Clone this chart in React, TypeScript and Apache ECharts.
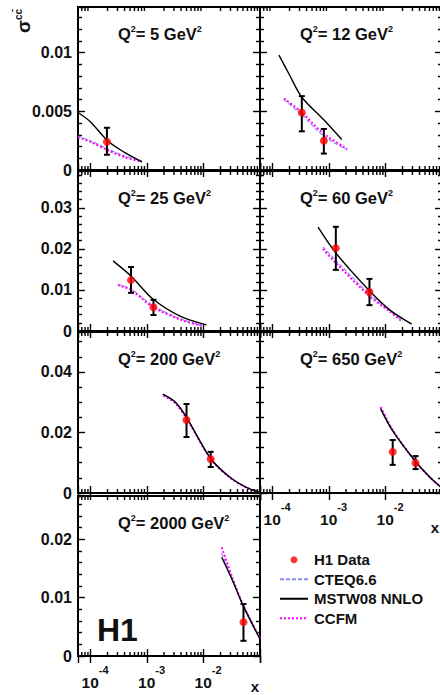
import React, { useEffect, useRef } from 'react';
import * as echarts from 'echarts';

const FONT = "'Liberation Sans', Arial, Helvetica, sans-serif";

// ---------- data ----------
const Q2_LABELS = ['5', '12', '25', '60', '200', '650', '2000'];
const X_MIN = 6e-5;
const X_MAX = 0.1;
const X_LABEL_EXPONENTS = [-4, -3, -2];

const ROW_Y_MAX = [0.0139, 0.039, 0.0532, 0.0274];
const ROW_Y_STEP = [0.005, 0.01, 0.02, 0.01];
const ROW_Y_MINOR = [5, 5, 4, 5];

// H1 data: [x, value, low, high]
const DATA_5 = [[1.95e-4, 0.0024, 0.0013, 0.0036]];
const DATA_12 = [[3.3e-4, 0.0049, 0.0033, 0.0063], [8.1e-4, 0.0025, 0.0014, 0.0035]];
const DATA_25 = [[5.2e-4, 0.0124, 0.0093, 0.0156], [1.3e-3, 0.0058, 0.0039, 0.0076]];
const DATA_60 = [[1.32e-3, 0.0202, 0.0149, 0.0254], [5.2e-3, 0.0095, 0.0063, 0.0127]];
const DATA_200 = [[5.0e-3, 0.0241, 0.0185, 0.0294], [1.34e-2, 0.0112, 0.0086, 0.0136]];
const DATA_650 = [[1.34e-2, 0.0136, 0.0093, 0.0175], [3.4e-2, 0.0099, 0.0079, 0.0122]];
const DATA_2000 = [[5.1e-2, 0.0058, 0.0026, 0.0089]];

// MSTW08 NNLO
const MSTW_5 = [[6e-5, 0.0049], [1e-4, 0.0041], [2e-4, 0.0025], [4e-4, 0.0015], [8.1e-4, 0.0007]];
const MSTW_12 = [[1.3e-4, 0.0098], [2e-4, 0.0081], [3.3e-4, 0.0062], [8e-4, 0.0043], [1.68e-3, 0.0026]];
const MSTW_25 = [[2.5e-4, 0.0171], [5.2e-4, 0.0134], [1.27e-3, 0.0078], [4e-3, 0.0035], [1.13e-2, 0.0015]];
const MSTW_60 = [[6.4e-4, 0.0253], [1.32e-3, 0.019], [5.2e-3, 0.0098], [1.2e-2, 0.0051], [2.9e-2, 0.0017]];
const MSTW_200 = [[1.9e-3, 0.0327], [3.1e-3, 0.0302], [5e-3, 0.025], [1.34e-2, 0.0114], [2.9e-2, 0.0053], [6e-2, 0.0017], [0.1, 0.0003]];
const MSTW_650 = [[8.2e-3, 0.0278], [1.34e-2, 0.0205], [3.4e-2, 0.0104], [6e-2, 0.0054], [0.1, 0.0016]];
const MSTW_2000 = [[2.1e-2, 0.0169], [3.3e-2, 0.0128], [5.1e-2, 0.0085], [0.1, 0.0029]];

// CCFM
const CCFM_5 = [[6e-5, 0.0028], [1e-4, 0.0024], [2e-4, 0.0017], [4e-4, 0.0011], [8.1e-4, 0.0007]];
const CCFM_12 = [[1.6e-4, 0.0061], [3.3e-4, 0.0049], [8e-4, 0.0031], [2.1e-3, 0.0018]];
const CCFM_25 = [[3.05e-4, 0.0112], [5.2e-4, 0.01], [1.27e-3, 0.0059], [4e-3, 0.0027], [9.7e-3, 0.0012]];
const CCFM_60 = [[7.8e-4, 0.02], [1.32e-3, 0.0166], [5.2e-3, 0.0085], [1.2e-2, 0.0047], [2.0e-2, 0.0022]];
const CCFM_200 = [[1.95e-3, 0.0322], [3.1e-3, 0.0298], [5e-3, 0.0247], [1.34e-2, 0.0112], [2.9e-2, 0.0051], [6e-2, 0.0016], [0.1, 0.0003]];
const CCFM_650 = [[8.2e-3, 0.0284], [1.34e-2, 0.0208], [3.4e-2, 0.0103], [6e-2, 0.0053], [0.1, 0.0016]];
const CCFM_2000 = [[2.1e-2, 0.0186], [3.3e-2, 0.0132], [5.1e-2, 0.0086], [0.1, 0.003]];

// CTEQ6.6
const CTEQ_5 = [[6e-5, 0.0029], [1e-4, 0.0025], [2e-4, 0.0018], [4e-4, 0.0012], [8.1e-4, 0.0008]];
const CTEQ_12 = [[1.6e-4, 0.006], [3.3e-4, 0.0047], [8e-4, 0.0029], [2.1e-3, 0.0017]];
const CTEQ_25 = [[3.05e-4, 0.0114], [5.2e-4, 0.0102], [1.27e-3, 0.0062], [4e-3, 0.0029], [9.7e-3, 0.0013]];
const CTEQ_60 = [[7.8e-4, 0.0205], [1.32e-3, 0.0172], [5.2e-3, 0.009], [1.2e-2, 0.0049], [2.0e-2, 0.0024]];
const CTEQ_200 = [[1.95e-3, 0.0324], [3.1e-3, 0.03], [5e-3, 0.0248], [1.34e-2, 0.0113], [2.9e-2, 0.0052], [6e-2, 0.0017], [0.1, 0.0003]];
const CTEQ_650 = [[8.2e-3, 0.028], [1.34e-2, 0.0206], [3.4e-2, 0.0103], [6e-2, 0.0053], [0.1, 0.0016]];
const CTEQ_2000 = [[2.1e-2, 0.0176], [3.3e-2, 0.0129], [5.1e-2, 0.0085], [0.1, 0.003]];

const DATA = [DATA_5, DATA_12, DATA_25, DATA_60, DATA_200, DATA_650, DATA_2000];
const MSTW = [MSTW_5, MSTW_12, MSTW_25, MSTW_60, MSTW_200, MSTW_650, MSTW_2000];
const CCFM = [CCFM_5, CCFM_12, CCFM_25, CCFM_60, CCFM_200, CCFM_650, CCFM_2000];
const CTEQ = [CTEQ_5, CTEQ_12, CTEQ_25, CTEQ_60, CTEQ_200, CTEQ_650, CTEQ_2000];

const LEGEND_NAMES = ['H1 Data', 'CTEQ6.6', 'MSTW08 NNLO', 'CCFM'];

// minor tick positions of the log x axis (2..9 x 10^n)
const X_MINOR_TICKS: number[] = [];
for (let e = -5; e <= -2; e++) {
  for (let m = 2; m <= 9; m++) {
    const v = m * Math.pow(10, e);
    if (v > X_MIN && v < X_MAX) X_MINOR_TICKS.push(v);
  }
}

// ---------- layout ----------
const PANEL_ROW = [0, 0, 1, 1, 2, 2, 3];
const PANEL_COL = [0, 1, 0, 1, 0, 1, 0];
const COL_X = [78, 260];
const COL_W = 182;
const ROW_TOP = [7, 171, 332, 496];
const ROW_H = [163, 160, 161, 160];

function xLabel(v: number) {
  const e = Math.log10(v);
  const r = Math.round(e);
  if (Math.abs(e - r) > 1e-6 || X_LABEL_EXPONENTS.indexOf(r) < 0) return '';
  return `{p|}{b|10}{s|${r}}`;
}

function buildOption() {
  const grids: any[] = [];
  const xAxes: any[] = [];
  const yAxes: any[] = [];
  const series: any[] = [];
  const graphics: any[] = [];
  const tickLine = { color: '#000', width: 1.4 };

  DATA.forEach((pts, i) => {
    const r = PANEL_ROW[i];
    const c = PANEL_COL[i];
    grids.push({
      left: COL_X[c], top: ROW_TOP[r], width: COL_W, height: ROW_H[r],
      show: true, borderColor: '#000', borderWidth: 2, backgroundColor: 'transparent',
      containLabel: false, outerBoundsMode: 'none',
    });
    const showX = i === 5 || i === 6;
    const showY = c === 0;
    const xi = xAxes.length;
    const yi = yAxes.length;
    const xBase = {
      type: 'log', logBase: 10, gridIndex: i, min: X_MIN, max: X_MAX,
      axisLine: { show: false },
      axisTick: { show: true, inside: true, length: 7, lineStyle: tickLine },
      splitLine: { show: false },
      minorTick: { show: false },
    };
    xAxes.push({
      ...xBase, position: 'bottom',
      axisLabel: showX ? {
        show: true, margin: 8, showMinLabel: false, showMaxLabel: false, hideOverlap: false,
        formatter: xLabel,
        rich: {
          p: { width: 9 },
          b: { fontSize: 15.5, fontWeight: 'bold', fontFamily: FONT, color: '#111', lineHeight: 26, verticalAlign: 'bottom' },
          s: { fontSize: 11, fontWeight: 'bold', fontFamily: FONT, color: '#111', lineHeight: 4, verticalAlign: 'top' },
        },
      } : { show: false },
    });
    xAxes.push({ ...xBase, position: 'top', axisLabel: { show: false } });
    const yBase = {
      type: 'value', gridIndex: i, min: 0, max: ROW_Y_MAX[r], interval: ROW_Y_STEP[r],
      axisLine: { show: false },
      axisTick: { show: true, inside: true, length: 7, lineStyle: tickLine },
      minorTick: { show: true, splitNumber: ROW_Y_MINOR[r], length: 4, lineStyle: tickLine },
      splitLine: { show: false },
      minorSplitLine: { show: false },
    };
    yAxes.push({
      ...yBase, position: 'left',
      axisLabel: showY ? {
        show: true, margin: 6, showMaxLabel: false,
        fontSize: 16, fontWeight: 'bold', fontFamily: FONT, color: '#111',
      } : { show: false },
    });
    yAxes.push({ ...yBase, position: 'right', axisLabel: { show: false } });

    series.push({
      type: 'line', name: 'CTEQ6.6', xAxisIndex: xi, yAxisIndex: yi,
      data: CTEQ[i], symbol: 'none', showSymbol: false, smooth: 0.3,
      lineStyle: { color: '#8c8cff', width: 1.2, type: [4, 2] }, itemStyle: { color: '#8c8cff' }, z: 2,
    });
    series.push({
      type: 'line', name: 'CCFM', xAxisIndex: xi, yAxisIndex: yi,
      data: CCFM[i], symbol: 'none', showSymbol: false, smooth: 0.3,
      lineStyle: { color: '#ff00ff', width: 2, type: [2, 2] }, itemStyle: { color: '#ff00ff' }, z: 3,
    });
    series.push({
      type: 'line', name: 'MSTW08 NNLO', xAxisIndex: xi, yAxisIndex: yi,
      data: MSTW[i], symbol: 'none', showSymbol: false, smooth: 0.3,
      lineStyle: { color: '#000', width: 1.4 }, itemStyle: { color: '#000' }, z: 4,
    });
    series.push({
      type: 'custom', name: 'xminor', xAxisIndex: xi, yAxisIndex: yi, silent: true, clip: false, z: 6,
      data: X_MINOR_TICKS.map((v) => [v, 0]),
      encode: { x: 0, y: 1 },
      renderItem: (params: any, api: any) => {
        const cs = params.coordSys;
        const px = api.coord([api.value(0), 0])[0];
        const b = cs.y + cs.height;
        return {
          type: 'group',
          children: [
            { type: 'line', shape: { x1: px, y1: b, x2: px, y2: b - 4 }, style: { stroke: '#000', lineWidth: 1.4 } },
            { type: 'line', shape: { x1: px, y1: cs.y, x2: px, y2: cs.y + 4 }, style: { stroke: '#000', lineWidth: 1.4 } },
          ],
        };
      },
    });
    series.push({
      type: 'custom', name: 'errors', xAxisIndex: xi, yAxisIndex: yi, silent: true, z: 7,
      data: pts.map((d) => [d[0], d[2], d[3]]),
      encode: { x: 0, y: [1, 2] },
      renderItem: (params: any, api: any) => {
        const lo = api.coord([api.value(0), api.value(1)]);
        const hi = api.coord([api.value(0), api.value(2)]);
        const st = { stroke: '#000', lineWidth: 2 };
        return {
          type: 'group',
          children: [
            { type: 'line', shape: { x1: lo[0], y1: lo[1], x2: hi[0], y2: hi[1] }, style: st },
            { type: 'line', shape: { x1: lo[0] - 3, y1: lo[1], x2: lo[0] + 3, y2: lo[1] }, style: st },
            { type: 'line', shape: { x1: hi[0] - 3, y1: hi[1], x2: hi[0] + 3, y2: hi[1] }, style: st },
          ],
        };
      },
    });
    series.push({
      type: 'scatter', name: 'H1 Data', xAxisIndex: xi, yAxisIndex: yi,
      data: pts.map((d) => [d[0], d[1]]), symbol: 'circle', symbolSize: 8,
      itemStyle: { color: '#ff0000' }, z: 8,
    });

    // panel title
    graphics.push({
      type: 'text', x: c === 0 ? 118 : 300, y: ROW_TOP[r] + 26,
      style: {
        text: `{q|Q}{s|2}{q|= ${Q2_LABELS[i]} GeV}{s|2}`,
        verticalAlign: 'middle', align: 'left',
        rich: {
          q: { fontSize: 16.5, fontWeight: 'bold', fontFamily: FONT, fill: '#111', lineHeight: 18, verticalAlign: 'bottom' },
          s: { fontSize: 9, fontWeight: 'bold', fontFamily: FONT, fill: '#111', lineHeight: 8, verticalAlign: 'top' },
        },
      },
      z: 20,
    });
  });

  graphics.push({
    type: 'text', x: 97, y: 630,
    style: { text: 'H1', fontSize: 32, fontWeight: 'bold', fontFamily: FONT, fill: '#111', verticalAlign: 'middle', align: 'left' },
    z: 20,
  });
  graphics.push({
    type: 'text', x: 255, y: 686,
    style: { text: 'x', fontSize: 15, fontWeight: 'bold', fontFamily: FONT, fill: '#111', verticalAlign: 'middle', align: 'center' },
    z: 20,
  });
  graphics.push({
    type: 'text', x: 435, y: 527,
    style: { text: 'x', fontSize: 15, fontWeight: 'bold', fontFamily: FONT, fill: '#111', verticalAlign: 'middle', align: 'center' },
    z: 20,
  });
  graphics.push({
    type: 'text', x: 23, y: 21, rotation: Math.PI / 2,
    style: {
      text: '{a|σ}{b|cc\u0304}', align: 'center', verticalAlign: 'middle',
      rich: {
        a: { fontSize: 19, fontWeight: 'bold', fontFamily: FONT, fill: '#111', lineHeight: 20, verticalAlign: 'bottom' },
        b: { fontSize: 10, fontWeight: 'bold', fontFamily: FONT, fill: '#111', lineHeight: 8, verticalAlign: 'top' },
      },
    },
    z: 20,
  });

  const hiddenSymbol = { opacity: 0, color: 'rgba(0,0,0,0)', borderColor: 'rgba(0,0,0,0)', borderWidth: 0 };

  return {
    animation: false,
    backgroundColor: '#fff',
    grid: grids,
    xAxis: xAxes,
    yAxis: yAxes,
    series,
    graphic: graphics,
    legend: {
      show: true, orient: 'vertical', left: 274, top: 545,
      itemWidth: 28, itemHeight: 7, itemGap: 0, selectedMode: false,
      data: [
        { name: LEGEND_NAMES[0], icon: 'circle' },
        { name: LEGEND_NAMES[1], itemStyle: hiddenSymbol },
        { name: LEGEND_NAMES[2], itemStyle: hiddenSymbol },
        { name: LEGEND_NAMES[3], itemStyle: hiddenSymbol },
      ],
      textStyle: { fontSize: 15, fontWeight: 'bold', fontFamily: FONT, color: '#111', lineHeight: 19.5, padding: [0, 0, 0, 1] },
    },
  };
}

export default function App() {
  const ref = useRef<HTMLDivElement>(null);
  useEffect(() => {
    if (!ref.current) return;
    const chart = echarts.init(ref.current, null, { renderer: 'svg' });
    chart.setOption(buildOption() as any);
    return () => chart.dispose();
  }, []);
  return (
    <div
      ref={ref}
      style={{ position: 'fixed', left: 0, top: 0, width: 440, height: 695, background: '#fff' }}
    />
  );
}
